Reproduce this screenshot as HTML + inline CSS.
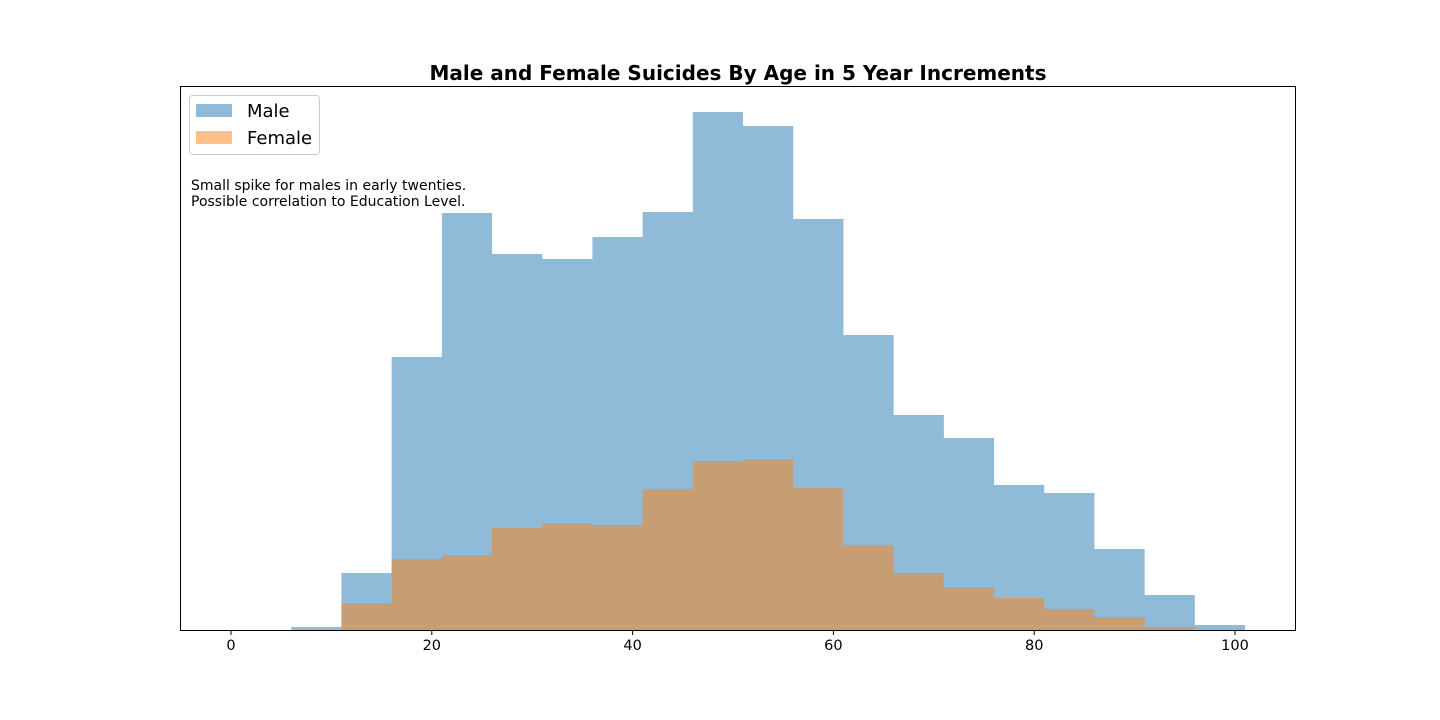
<!DOCTYPE html>
<html><head><meta charset="utf-8"><style>body{margin:0;background:#fff}svg{display:block;font-family:"DejaVu Sans","Liberation Sans",sans-serif}</style></head>
<body>
<svg id="chart" width="1440" height="720" viewBox="0 0 1440 720">
<rect width="1440" height="720" fill="#fff"/>
<text x="738" y="80" text-anchor="middle" font-size="20" font-weight="bold">Male and Female Suicides By Age in 5 Year Increments</text>
<g id="bars"></g>
<rect x="180.5" y="86.5" width="1115" height="544" fill="none" stroke="#000" stroke-width="1"/>
<g id="xticks"></g>
<g>
<rect x="189.5" y="95.5" width="130" height="59" rx="3" fill="#fff" fill-opacity="0.8" stroke="#ccc"/>
<rect x="196" y="104" width="36" height="13" fill="#1f77b4" fill-opacity="0.5"/>
<text x="247" y="117" font-size="18">Male</text>
<rect x="196" y="131" width="36" height="13" fill="#ff7f0e" fill-opacity="0.5"/>
<text x="247" y="144" font-size="18">Female</text>
</g>
<text font-size="14"><tspan x="191" y="190">Small spike for males in early twenties.</tspan><tspan x="191" y="206">Possible correlation to Education Level.</tspan></text>
</svg>
<script>
const binStarts=[6,11,16,21,26,31,36,41,46,51,56,61,66,71,76,81,86,91,96];
const maleCounts=[3,57,273,417,376,371,393,418,518,504,411,295,215,192,145,137,81,35,5];
const femaleCounts=[0,27,71,75,102,107,105,141,169,171,142,85,57,43,32,21,13,3,0];
const xTicks=[0,20,40,60,80,100];
const binWidth=5;
const x0=231,pxPerUnit=10.04,yBase=630,yMax=544,pxH=544;
const xs=v=>x0+v*pxPerUnit;
const ys=v=>yBase-v/yMax*pxH;
const NS="http://www.w3.org/2000/svg";
const bars=document.getElementById('bars');
function drawSeries(vals,color,name){
 let d='M'+xs(binStarts[0])+' '+yBase;
 vals.forEach((v,i)=>{
  d+=' L'+xs(binStarts[i])+' '+ys(v)+' L'+xs(binStarts[i]+binWidth)+' '+ys(v);
 });
 d+=' L'+xs(binStarts[vals.length-1]+binWidth)+' '+yBase+' Z';
 const p=document.createElementNS(NS,'path');
 
 
 p.setAttribute('d',d);
 p.setAttribute('fill',color);
 p.setAttribute('fill-opacity','0.5');
 bars.appendChild(p);
}
drawSeries(maleCounts,'#1f77b4','male');
drawSeries(femaleCounts,'#ff7f0e','female');
const xt=document.getElementById('xticks');
xTicks.forEach(t=>{
 const l=document.createElementNS(NS,'line');
 
 
 l.setAttribute('x1',xs(t));l.setAttribute('x2',xs(t));
 l.setAttribute('y1',631);l.setAttribute('y2',635);
 l.setAttribute('stroke','#000');
 xt.appendChild(l);
 const tx=document.createElementNS(NS,'text');
 
 
 tx.setAttribute('x',xs(t));tx.setAttribute('y',650);
 tx.setAttribute('text-anchor','middle');tx.setAttribute('font-size','14.5');
 tx.textContent=t;
 xt.appendChild(tx);
});
</script>
</body></html>
